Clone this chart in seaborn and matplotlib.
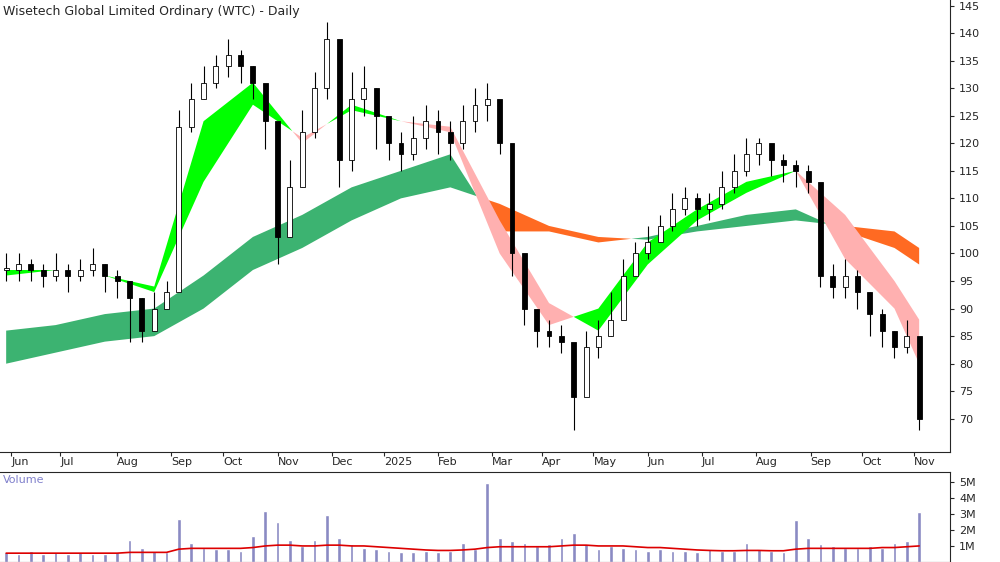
import numpy as np
import pandas as pd
import matplotlib
matplotlib.use("Agg")
import matplotlib.pyplot as plt
import seaborn as sns

sns.set_style("white")
plt.rcParams['font.family'] = ['DejaVu Sans']

# weekly data, week 0 = 2024-05-27
closes = [97,98,97,96,97,96,97,98,96,95,92,86,90,93,123,128,131,134,136,134,131,124,103,112,122,130,139,117,128,130,125,120,118,121,124,122,120,124,127,128,120,100,90,86,85,84,74,83,85,88,96,100,102,105,108,110,108,109,112,115,118,120,117,116,115,113,96,94,96,93,89,86,83,85,70]
highs  = [100,100,99,98,100,98,99,101,98,97,95,92,93,95,126,131,134,136,139,137,134,128,110,117,126,133,142,125,133,134,130,124,122,125,127,126,124,127,130,131,125,108,95,90,88,87,83,86,88,93,99,102,105,107,111,112,111,111,115,118,121,121,119,118,117,116,110,98,99,97,93,90,86,88,79]
lows   = [95,95,95,94,95,93,95,96,93,92,84,84,86,90,105,122,128,130,132,131,128,119,98,103,112,121,128,112,115,125,119,117,115,117,119,118,117,119,122,124,118,96,87,83,83,82,68,79,81,85,91,97,99,102,104,107,105,106,108,111,114,116,114,113,112,111,94,92,92,90,85,83,81,82,68]

knots    = [0,4,8,12,16,20,24,28,32,36,40,44,48,52,56,60,64,68,72,74]
short_s1 = [97,97,96,94,124,131,120,127,124,122,100,87,90,102,108,113,115,99,90,80]
short_s2 = [96,97,96,93,113,127,121,126,124,123,106,91,86,98,106,111,115,107,95,88]
long_l1  = [86,87,89,90,96,103,107,112,115,118,104,104,102,103,105,107,108,104,101,98]
long_l2  = [80,82,84,85,90,97,101,106,110,112,109,105,103,102.5,104,105,106,105,104,101]

volume = [0.6,0.5,0.7,0.5,0.6,0.5,0.6,0.5,0.5,0.6,1.4,0.9,0.7,0.6,2.7,1.2,0.9,0.8,0.8,0.7,1.6,3.2,2.5,1.4,1.0,1.4,2.9,1.5,1.1,0.9,0.8,0.7,0.6,0.6,0.7,0.6,0.7,1.2,0.8,4.9,1.5,1.3,1.2,1.0,1.1,1.5,1.8,1.1,0.8,1.0,0.9,0.8,0.7,0.8,0.7,0.7,0.6,0.8,0.7,0.7,1.2,0.8,0.7,0.6,2.6,1.5,1.1,1.0,0.9,0.9,1.0,0.9,1.2,1.3,3.1]
vol_avg = [0.55,0.55,0.55,0.55,0.55,0.55,0.55,0.55,0.55,0.55,0.6,0.6,0.6,0.6,0.8,0.85,0.85,0.85,0.85,0.85,0.9,1.0,1.05,1.05,1.0,1.0,1.05,1.05,1.0,1.0,0.95,0.9,0.85,0.8,0.75,0.72,0.72,0.75,0.8,0.9,0.95,0.95,0.95,0.95,0.95,1.0,1.05,1.05,1.0,1.0,1.0,0.95,0.9,0.9,0.85,0.8,0.75,0.72,0.7,0.7,0.72,0.72,0.7,0.7,0.8,0.85,0.85,0.85,0.85,0.85,0.85,0.9,0.9,0.95,1.0]

month_pos = [0.4,4.4,9.0,13.4,17.6,22.0,26.4,30.6,35.0,39.4,43.4,47.6,52.0,56.4,60.8,65.2,69.4,73.6]
month_lab = ["Jun","Jul","Aug","Sep","Oct","Nov","Dec","2025","Feb","Mar","Apr","May","Jun","Jul","Aug","Sep","Oct","Nov"]

fig = plt.figure(figsize=(10, 5.62), dpi=100)
ax = fig.add_axes([0.0, 0.196, 0.95, 0.804])
axv = fig.add_axes([0.0, 0.0, 0.95, 0.16])

x = np.arange(len(closes))
kx = np.array(knots, float)
s1, s2 = np.array(short_s1), np.array(short_s2)
l1, l2 = np.array(long_l1), np.array(long_l2)

ax.fill_between(kx, l1, l2, where=l1 >= l2, color="#3cb371", interpolate=True, lw=0)
ax.fill_between(kx, l1, l2, where=l1 < l2, color="#ff6a22", interpolate=True, lw=0)
ax.fill_between(kx, s1, s2, where=s1 >= s2, color="#00ff00", interpolate=True, lw=0)
ax.fill_between(kx, s1, s2, where=s1 < s2, color="#ffb0b0", interpolate=True, lw=0)

opens = [closes[0]] + closes[:-1]
for i in x:
    o, c = opens[i], closes[i]
    ax.vlines(i, lows[i], highs[i], color="black", lw=0.8, zorder=3)
    up = c >= o
    ax.bar(i, max(abs(c - o), 0.3), bottom=min(o, c), width=0.4,
           color="white" if up else "black", edgecolor="black", lw=0.6, zorder=4)

ax.set_xlim(-0.5, 76.5)
ax.set_ylim(64, 146)
ax.yaxis.tick_right()
ax.set_yticks(range(70, 146, 5))
ax.tick_params(axis="y", labelsize=8, length=3, right=True)
ax.set_xticks(month_pos)
ax.set_xticklabels(month_lab, fontsize=8, ha="left")
ax.tick_params(axis="x", length=3, bottom=True, pad=1)
for s in ["top", "left"]:
    ax.spines[s].set_visible(False)
ax.text(0.003, 0.99, "Wisetech Global Limited Ordinary (WTC) - Daily", transform=ax.transAxes,
        fontsize=9, va="top", ha="left")

sns.barplot(x=x, y=volume, ax=axv, color="#8080cc", width=0.3, native_scale=True)
sns.lineplot(x=x, y=vol_avg, ax=axv, color="#dd0000", lw=1.2)
axv.set_xlim(-0.5, 76.5)
axv.set_ylim(0, 5.6)
axv.yaxis.tick_right()
axv.set_yticks([1, 2, 3, 4, 5])
axv.set_yticklabels(["1M", "2M", "3M", "4M", "5M"], fontsize=8)
axv.tick_params(axis="y", length=3, right=True)
axv.set_xticks([])
axv.set_ylabel("")
axv.spines["left"].set_visible(False)
axv.text(0.003, 0.97, "Volume", transform=axv.transAxes, fontsize=8, va="top", color="#8080cc")

fig.savefig("out.png", dpi=100)
